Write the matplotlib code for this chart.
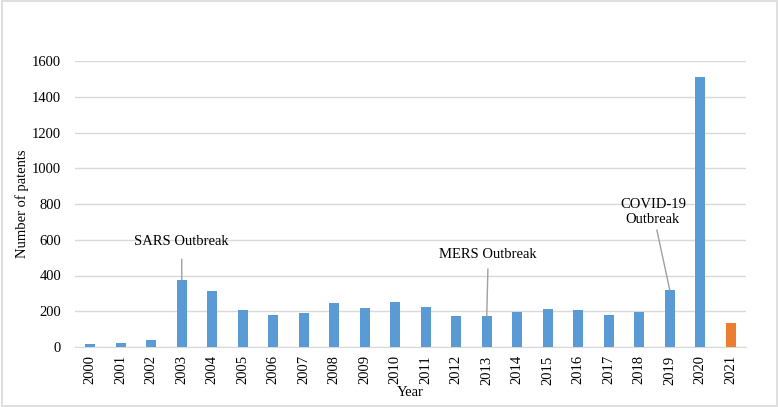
import matplotlib
matplotlib.use("Agg")
import matplotlib.pyplot as plt
from matplotlib.patches import Rectangle

years = [str(y) for y in range(2000, 2022)]
patents = [18, 25, 40, 375, 315, 207, 179, 190, 244, 220, 252, 224, 175, 172, 194, 213, 209, 179, 198, 319, 1509, 136]
colors = ["#5b9bd5"] * 21 + ["#ed7d31"]

plt.rcParams['font.family'] = ['Liberation Serif', 'DejaVu Serif']

fig = plt.figure(figsize=(7.79, 4.07), dpi=100)
ax = fig.add_axes([75/779, 1-347/407, 671/779, 286/407])
x = list(range(len(years)))
ax.bar(x, patents, width=0.33, color=colors, zorder=3)
ax.set_xlim(-0.5, 21.5)
ax.set_ylim(0, 1600)
ax.set_yticks(range(0, 1601, 200))
ax.set_xticks(x)
ax.set_xticklabels(years, rotation=90, fontsize=10.5)
ax.tick_params(axis='y', labelsize=10.5, length=0, pad=10)
ax.tick_params(axis='x', length=0, pad=6)
ax.grid(axis='y', color='#d9d9d9', linewidth=1, zorder=0)
for s in ['top', 'right', 'left']:
    ax.spines[s].set_visible(False)
ax.spines['bottom'].set_color('#d9d9d9')
ax.set_xlabel('Year', fontsize=10.5, labelpad=1)
ax.set_ylabel('Number of patents', fontsize=10.5, labelpad=2)

ap = dict(arrowstyle='-', color='#a0a0a0', lw=1)
ax.annotate('SARS Outbreak', xy=(3, 375), xytext=(3, 590), ha='center', va='center', fontsize=10.5,
            arrowprops=dict(ap, shrinkA=6, shrinkB=0))
ax.annotate('MERS Outbreak', xy=(13, 172), xytext=(13.05, 520), ha='center', va='center', fontsize=10.5,
            arrowprops=dict(ap, shrinkA=4, shrinkB=0))
ax.annotate('COVID-19\nOutbreak', xy=(19, 319), xytext=(18.45, 755), ha='center', va='center', fontsize=10.5,
            linespacing=1.15, arrowprops=dict(ap, shrinkA=1, shrinkB=0))

fig.patches.append(Rectangle((0.002, 0.003), 0.996, 0.994, transform=fig.transFigure,
                             fill=False, edgecolor='#d9d9d9', lw=1.2))
fig.savefig('out.png', dpi=100)
